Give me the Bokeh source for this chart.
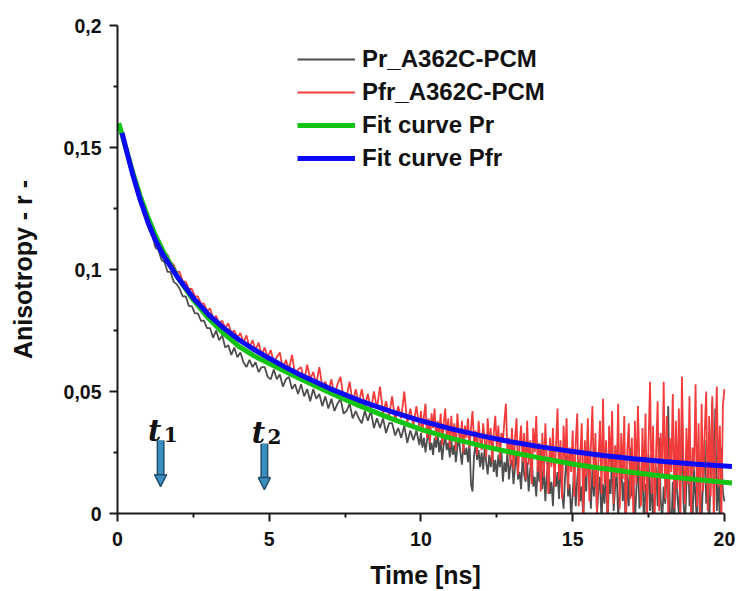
import numpy as np
from bokeh.plotting import figure
from bokeh.models import (Range1d, FixedTicker, CustomJSTickFormatter, Legend, LegendItem,
                          Arrow, NormalHead, ColumnDataSource)
from bokeh.core.properties import value
from bokeh.embed import file_html
from bokeh.resources import INLINE

# ---------------- data (anisotropy in units of 1e-3) ----------------
# measured traces: part A sampled every 0.1 ns from 0.05 ns, part B every 0.05 ns from 10 ns
T_A_START, T_A_STEP = 0.05, 0.1
T_B_START, T_B_STEP = 10.0, 0.05

PR_A_MILLI = [
    158, 154, 149, 145, 140, 136, 131, 127, 124, 120,
    116, 114, 109, 108, 104, 103, 99, 99, 95, 94,
    92, 89, 89, 85, 85, 82, 82, 79, 79, 76,
    76, 72, 75, 71, 73, 68, 69, 65, 68, 64,
    66, 62, 60, 63, 60, 62, 58, 60, 60, 56,
    55, 59, 55, 57, 52, 55, 56, 51, 53, 49,
    53, 48, 51, 46, 51, 47, 49, 44, 48, 43,
    47, 42, 45, 47, 41, 42, 45, 39, 42, 39,
    37, 42, 38, 42, 35, 39, 35, 39, 33, 37,
    37, 32, 35, 31, 36, 29, 34, 30, 34, 28,
]
PR_B_MILLI = [
    33, 27, 31, 25, 30, 34, 26, 29, 24, 31,
    27, 33, 25, 30, 22, 28, 32, 26, 29, 23,
    30, 24, 28, 21, 27, 31, 25, 20, 28, 24,
    27, 21, 29, 12, 9, 24, 28, 22, 26, 19,
    25, 18, 27, 21, 16, 24, 19, 26, 17, 22,
    15, 24, 19, 26, 13, 21, 17, 25, 14, 20,
    22, 12, 19, 25, 14, 17, 10, 23, 16, 13,
    21, 9, 18, 24, 11, 15, 7, 20, 13, 26,
    10, 19, 5, 16, 22, 8, 13, 3, 18, 11,
    17, 6, 21, 9, 2, 15, 24, 7, 12, -2,
    8, 19, 3, 14, 22, 5, 11, -3, 16, 9,
    34, 13, 2, 18, 7, 23, 0, 10, 15, -4,
    12, 4, 20, -5, 14, 8, 25, 1, 11, 17,
    -2, 9, 21, 5, 13, -6, 16, 3, 27, 7,
    14, -4, 10, 22, 2, 8, 18, -7, 12, 5,
    24, 1, 15, -5, 9, 19, 3, 31, 6, -3,
    11, 4, 17, 44, 2, -8, 13, -4, 21, 7,
    0, 16, 41, 5, -6, 12, 26, 3, 9, -3,
    18, 6, -5, 23, 10, -2, 14, 30, 4, 12,
    -6, 20, 46, 8, 43, 1, 15, -4, 27, 9,
    5,
]

PFR_A_MILLI = [
    157, 157, 153, 147, 142, 137, 133, 129, 125, 122,
    120, 116, 115, 111, 110, 107, 106, 103, 102, 99,
    99, 95, 95, 92, 92, 89, 89, 86, 86, 83,
    84, 80, 81, 78, 79, 76, 78, 74, 75, 72,
    74, 70, 73, 68, 71, 67, 70, 65, 68, 64,
    67, 62, 64, 66, 59, 63, 59, 65, 57, 59,
    60, 54, 61, 55, 58, 53, 60, 52, 54, 50,
    55, 48, 53, 56, 47, 48, 54, 45, 51, 45,
    51, 44, 49, 42, 50, 43, 52, 41, 46, 40,
    48, 38, 44, 39, 50, 37, 43, 36, 44, 35,
]
PFR_B_MILLI = [
    42, 33, 40, 45, 31, 39, 29, 41, 35, 43,
    30, 38, 32, 41, 28, 37, 43, 31, 39, 27,
    40, 30, 37, 26, 41, 33, 29, 38, 25, 36,
    31, 39, 27, 35, 42, 29, 34, 24, 38, 30,
    26, 37, 30, 23, 39, 28, 35, 21, 33, 40,
    27, 36, 22, 33, 29, 38, 45, 24, 31, 20,
    35, 18, 31, 39, 16, 28, 36, 21, 33, 14,
    38, 20, 30, 12, 35, 25, 40, 17, 29, 9,
    33, 15, 37, 22, 8, 31, 19, 35, 11, 28,
    43, 14, 30, 6, 36, 21, 39, 10, 27, 17,
    34, 7, 29, 41, 3, 24, 37, -2, 30, 15,
    39, 5, 27, 44, 11, 33, 0, 22, 38, 8,
    47, 12, 30, -3, 36, 19, 42, 4, 28, 15,
    45, 2, 33, 14, 40, -5, 26, 37, 6, 31,
    -2, 38, 12, 44, 20, 3, 35, 9, 41, -4,
    29, 54, 8, 36, -3, 25, 46, 1, 33, 15,
    54, 6, 40, -3, 31, 17, 49, 2, 38, 10,
    43, -5, 56, 22, 4, 35, 12, 48, -2, 27,
    18, 53, 3, 37, -6, 45, 9, 33, 50, 1,
    40, 7, 48, -4, 29, 52, 11, 36, -3, 44,
    51,
]

FIT_PR_T = [0.04, 0.25, 0.5, 0.75, 1.0, 1.25, 1.5, 2.0, 2.5, 3.0, 3.5, 4.0, 4.5, 5.0,
            6.0, 7.0, 8.0, 9.0, 10.0, 11.0, 12.0, 13.0, 14.0, 15.0, 16.0, 17.0, 18.0, 19.0, 20.25]
FIT_PR_MILLI = [160, 151, 140, 130, 121.5, 114, 107.5, 96.5, 87.5, 80, 73.8, 68.5, 64.6, 61.5,
                55.3, 49.5, 44.0, 39.0, 34.5, 30.8, 27.7, 25.0, 22.6, 20.3, 18.4, 16.8, 15.3, 14.0, 12.5]

FIT_PFR_T = [0.15, 0.25, 0.5, 0.75, 1.0, 1.25, 1.5, 2.0, 2.5, 3.0, 3.5, 4.0, 4.5, 5.0, 5.5,
             6.0, 7.0, 8.0, 9.0, 10.0, 11.0, 12.0, 13.0, 14.0, 15.0, 16.0, 17.0, 18.0, 19.0, 20.25]
FIT_PFR_MILLI = [156, 151, 139, 128.5, 119.5, 112, 106, 96.5, 88.3, 81.5, 76, 71.2, 67.2, 63.6, 60.2,
                 57, 51.2, 46.2, 41.9, 38, 34.7, 31.8, 29.3, 27.2, 25.4, 23.8, 22.4, 21.3, 20.3, 19.3]

SERIES_NAMES = ["Pr_A362C-PCM", "Pfr_A362C-PCM", "Fit curve Pr", "Fit curve Pfr"]

X_TICKS = [0, 5, 10, 15, 20]
X_MINOR = [2.5, 7.5, 12.5, 17.5]
Y_TICKS = [0, 0.05, 0.1, 0.15, 0.2]
Y_MINOR = [0.025, 0.075, 0.125, 0.175]

# time markers t1, t2
MARK_NAMES = ["t", "t"]
MARK_SUBS = ["1", "2"]
MARK_X = [1.42, 4.84]
MARK_TOP = [0.0299, 0.0286]
MARK_NECK = [0.0147, 0.0135]
MARK_TIP = [0.0110, 0.0098]
MARK_LABEL_Y = [0.0340, 0.0330]

# ---------------- derived ----------------
def times(a_len, b_len):
    ta = T_A_START + T_A_STEP * np.arange(a_len)
    tb = T_B_START + T_B_STEP * np.arange(b_len)
    return np.concatenate([ta, tb])

t_pr = times(len(PR_A_MILLI), len(PR_B_MILLI))
t_pfr = times(len(PFR_A_MILLI), len(PFR_B_MILLI))
pr = np.array(PR_A_MILLI + PR_B_MILLI) / 1000.0
pfr = np.array(PFR_A_MILLI + PFR_B_MILLI) / 1000.0
fit_pr = np.array(FIT_PR_MILLI) / 1000.0
fit_pfr = np.array(FIT_PFR_MILLI) / 1000.0

FONT = "Liberation Sans"

p = figure(width=737, height=591, output_backend="svg", toolbar_location=None,
           x_range=Range1d(0, 20.3), y_range=Range1d(0, 0.2),
           min_border_left=117, min_border_right=4, min_border_top=25, min_border_bottom=77,
           background_fill_color="white", border_fill_color="white")
p.outline_line_color = None
p.grid.visible = False

r_pr = p.line(t_pr, pr, line_color="#4e4e4e", line_width=1.8)
r_pfr = p.line(t_pfr, pfr, line_color="#f23c3c", line_width=1.8)
r_fpr = p.line(FIT_PR_T, fit_pr, line_color="#14c414", line_width=5)
r_fpfr = p.line(FIT_PFR_T, fit_pfr, line_color="#0a0af5", line_width=5)

# arrows
msrc = ColumnDataSource(dict(x=MARK_X, top=MARK_TOP, neck=MARK_NECK, tip=MARK_TIP,
                             ly=MARK_LABEL_Y, name=MARK_NAMES, sub=MARK_SUBS))
DARK = "#23506c"
LIGHT = "#3b8fc0"
p.segment(x0="x", y0="top", x1="x", y1="neck", source=msrc, line_width=8, line_color=DARK)
p.segment(x0="x", y0="top", x1="x", y1="neck", source=msrc, line_width=5, line_color=LIGHT)
p.add_layout(Arrow(end=NormalHead(size=12, fill_color=LIGHT, line_color=DARK, line_width=1.5),
                   x_start="x", y_start="neck", x_end="x", y_end="tip", line_alpha=0,
                   source=msrc))
p.text(x="x", y="ly", text="name", source=msrc, x_offset=-6, text_align="center",
       text_baseline="alphabetic", text_font=value("DejaVu Serif"),
       text_font_style="bold italic", text_font_size="29px", text_color="#111111")
p.text(x="x", y="ly", text="sub", source=msrc, x_offset=10, y_offset=4, text_align="center",
       text_baseline="alphabetic", text_font=value("DejaVu Serif"),
       text_font_style="bold", text_font_size="20px", text_color="#111111")

# axes
xa = p.xaxis[0]
ya = p.yaxis[0]
xa.ticker = FixedTicker(ticks=X_TICKS, minor_ticks=X_MINOR)
ya.ticker = FixedTicker(ticks=Y_TICKS, minor_ticks=Y_MINOR)
xa.bounds = (0, 20)
ya.formatter = CustomJSTickFormatter(
    code="if (tick == 0) { return '0'; } return (Math.round(tick*1000)/1000).toString().replace('.', ',');")
xa.axis_label = "Time [ns]"
ya.axis_label = "Anisotropy - r -"
for ax in (xa, ya):
    ax.axis_line_width = 2
    ax.axis_line_color = "#1a1a1a"
    ax.major_tick_line_width = 2
    ax.minor_tick_line_width = 2
    ax.major_tick_line_color = "#1a1a1a"
    ax.minor_tick_line_color = "#1a1a1a"
    ax.major_tick_out = 8
    ax.major_tick_in = 0
    ax.minor_tick_out = 4
    ax.minor_tick_in = 0
    ax.major_label_text_font = FONT
    ax.major_label_text_font_style = "bold"
    ax.major_label_text_font_size = "19.5px"
    ax.major_label_text_color = "#111111"
    ax.axis_label_text_font = FONT
    ax.axis_label_text_font_style = "bold"
    ax.axis_label_text_font_size = "25px"
    ax.axis_label_text_color = "#111111"
xa.major_label_standoff = 10
ya.major_label_standoff = 8
xa.axis_label_standoff = 12
ya.axis_label_standoff = 24

legend = Legend(items=[LegendItem(label=SERIES_NAMES[0], renderers=[r_pr]),
                       LegendItem(label=SERIES_NAMES[1], renderers=[r_pfr]),
                       LegendItem(label=SERIES_NAMES[2], renderers=[r_fpr]),
                       LegendItem(label=SERIES_NAMES[3], renderers=[r_fpfr])],
                location=(180, 340), orientation="vertical",
                label_text_font=FONT, label_text_font_style="bold", label_text_font_size="24px",
                label_text_color="#111111",
                glyph_width=58, glyph_height=30, label_height=30, spacing=3, label_standoff=7,
                padding=0, margin=0, border_line_color=None, background_fill_alpha=0)
p.add_layout(legend, "center")

open("out.html", "w").write(file_html(p, INLINE))
